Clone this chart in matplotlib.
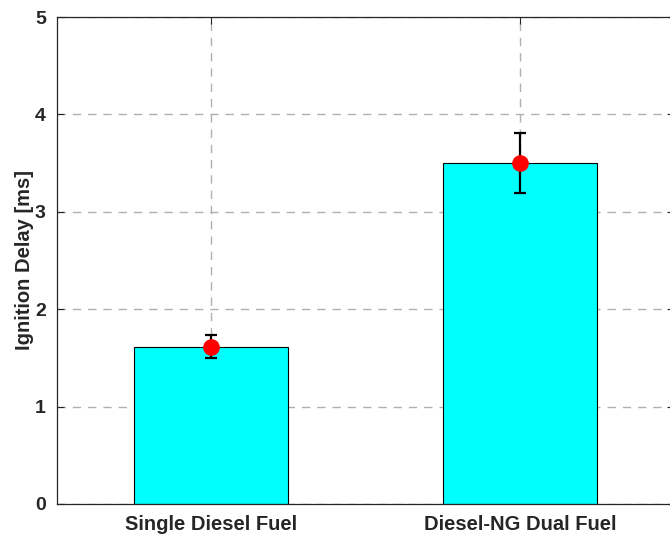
import matplotlib
matplotlib.use("Agg")
import matplotlib.pyplot as plt
import numpy as np

categories = ["Single Diesel Fuel", "Diesel-NG Dual Fuel"]
means = [1.61, 3.50]
err_low = [0.11, 0.31]
err_high = [0.12, 0.31]
yticks = [0, 1, 2, 3, 4, 5]

plt.rcParams['font.family'] = ['Liberation Sans', 'DejaVu Sans']
fig = plt.figure(figsize=(6.7, 5.35), dpi=100)
ax = fig.add_axes([57/670, 31/535, (674-57)/670, (504-17)/535])
x = np.arange(1, len(categories) + 1)
ax.bar(x, means, width=0.5, color='#00ffff', edgecolor='black', linewidth=0.8, zorder=2)
ax.errorbar(x, means, yerr=[err_low, err_high], fmt='none', ecolor='black',
            elinewidth=1.6, capsize=4, capthick=1.6, zorder=3)
ax.plot(x, means, 'o', color='red', markersize=11, zorder=4)
ax.set_xlim(0.5, 2.5)
ax.set_ylim(0, 5)
ax.set_xticks(x)
ax.set_xticklabels(categories, fontsize=14.5, fontweight='bold', color='#262626')
ax.set_yticks(yticks)
ax.set_yticklabels([str(t) for t in yticks], fontsize=14, fontweight='bold', color='#262626')
ax.set_ylabel("Ignition Delay [ms]", fontsize=14.5, fontweight='bold', color='#262626', labelpad=1)
ax.tick_params(direction='in', length=5, width=0.8, color='#262626', right=True, top=True, pad=8)
ax.grid(True, linestyle=(0, (6, 5)), color='#b0b0b0', linewidth=1, zorder=0)
ax.set_axisbelow(True)
for s in ax.spines.values():
    s.set_color('#262626')
    s.set_linewidth(0.9)
fig.savefig("out.png", dpi=100)
